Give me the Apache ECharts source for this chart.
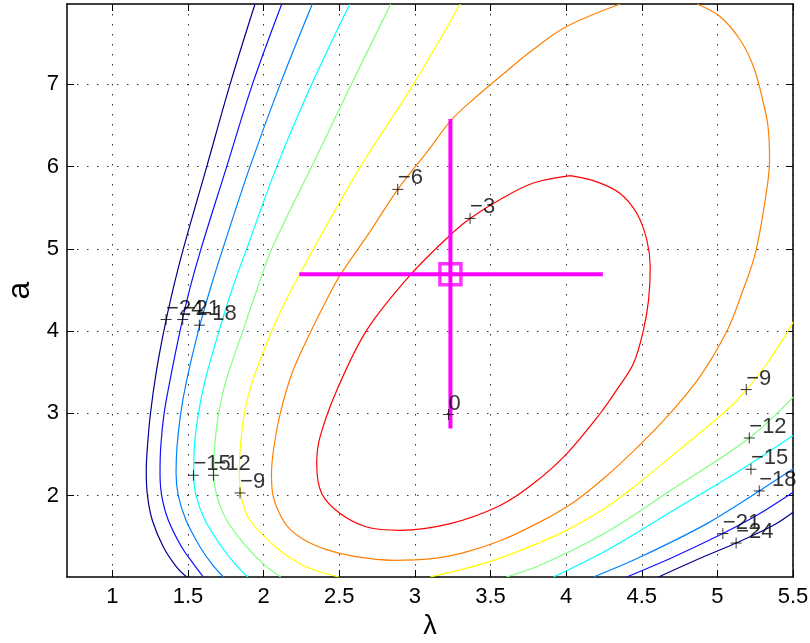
<!DOCTYPE html>
<html>
<head>
<meta charset="utf-8">
<script src="https://cdn.jsdelivr.net/npm/echarts@6/dist/echarts.min.js"></script>
<style>
  html, body { margin: 0; padding: 0; background: #fff; }
  #chart { width: 810px; height: 643px; }
</style>
</head>
<body>
<div id="chart"></div>
<script>
// tick values
const xTicks = [1, 1.5, 2, 2.5, 3, 3.5, 4, 4.5, 5, 5.5]
const yTicks = [2, 3, 4, 5, 6, 7]

// contour lines, [lambda, a] points
const contourM24Left = [[1.943, 7.977], [1.778, 7.0], [1.624, 6.0], [1.469, 5.0], [1.4, 4.5], [1.34, 4.0], [1.29, 3.5], [1.252, 3.0], [1.232, 2.6], [1.224, 2.3], [1.232, 2.0], [1.264, 1.7], [1.337, 1.375], [1.425, 1.13], [1.491, 1.01]]
const contourM24Right = [[4.611, 1.01], [4.931, 1.274], [5.124, 1.423], [5.371, 1.639], [5.503, 1.8]]
const contourM21Left = [[2.12, 7.977], [1.926, 7.0], [1.756, 6.0], [1.586, 5.0], [1.51, 4.5], [1.447, 4.0], [1.381, 3.4], [1.342, 3.0], [1.32, 2.6], [1.315, 2.27], [1.326, 2.0], [1.37, 1.7], [1.458, 1.375], [1.536, 1.17], [1.602, 1.01]]
const contourM21Right = [[4.401, 1.01], [4.71, 1.253], [5.036, 1.538], [5.261, 1.76], [5.503, 2.044]]
const contourM18Left = [[2.322, 7.977], [2.109, 7.0], [1.91, 6.0], [1.73, 5.0], [1.645, 4.5], [1.568, 4.0], [1.491, 3.4], [1.452, 3.0], [1.427, 2.59], [1.421, 2.27], [1.436, 2.0], [1.487, 1.7], [1.58, 1.375], [1.657, 1.17], [1.734, 1.01]]
const contourM18Right = [[4.181, 1.01], [4.49, 1.253], [4.931, 1.659], [5.277, 2.056], [5.503, 2.328]]
const contourM15Left = [[2.57, 7.977], [2.318, 7.0], [2.087, 6.0], [1.888, 5.0], [1.79, 4.5], [1.705, 4.0], [1.613, 3.4], [1.569, 3.0], [1.542, 2.59], [1.538, 2.26], [1.553, 2.0], [1.613, 1.7], [1.723, 1.375], [1.811, 1.17], [1.895, 1.01]]
const contourM15Right = [[3.916, 1.01], [4.269, 1.335], [4.71, 1.821], [5.151, 2.308], [5.503, 2.734]]
const contourM12Left = [[2.84, 7.977], [2.58, 7.0], [2.318, 6.0], [2.054, 5.0], [1.955, 4.5], [1.862, 4.0], [1.752, 3.4], [1.703, 3.0], [1.676, 2.59], [1.67, 2.26], [1.69, 2.0], [1.756, 1.7], [1.888, 1.375], [1.998, 1.17], [2.113, 1.01]]
const contourM12Right = [[3.605, 1.01], [3.828, 1.152], [4.269, 1.557], [4.71, 2.085], [5.211, 2.7], [5.503, 3.2]]
const contourM9Left = [[3.3, 7.977], [2.99, 7.0], [2.64, 6.0], [2.33, 5.0], [2.241, 4.7], [2.148, 4.376], [2.054, 4.0], [1.928, 3.4], [1.873, 3.0], [1.846, 2.59], [1.84, 2.27], [1.85, 2.0], [1.91, 1.7], [2.08, 1.375], [2.24, 1.17], [2.36, 1.08], [2.5, 1.01]]
const contourM9Right = [[3.101, 1.01], [3.35, 1.12], [3.564, 1.24], [3.8, 1.41], [4.005, 1.58], [4.269, 1.861], [4.5, 2.18], [4.71, 2.5], [4.93, 2.83], [5.129, 3.159], [5.327, 3.606], [5.503, 4.112]]
const contourM6 = [[4.357, 7.977], [4.0, 7.7], [3.78, 7.42], [3.56, 7.09], [3.4, 6.84], [3.24, 6.566], [3.09, 6.2], [2.887, 5.723], [2.7, 5.2], [2.506, 4.68], [2.4, 4.32], [2.3, 3.95], [2.19, 3.5], [2.11, 3.0], [2.065, 2.55], [2.052, 2.25], [2.062, 2.0], [2.1, 1.8], [2.16, 1.62], [2.27, 1.46], [2.42, 1.34], [2.6, 1.26], [2.86, 1.213], [3.1, 1.23], [3.33, 1.31], [3.564, 1.45], [3.828, 1.68], [4.05, 1.92], [4.25, 2.21], [4.445, 2.54], [4.666, 2.956], [4.886, 3.45], [5.063, 4.0], [5.16, 4.45], [5.25, 4.94], [5.316, 5.593], [5.345, 6.079], [5.335, 6.484], [5.3, 6.809], [5.239, 7.214], [5.151, 7.539], [5.019, 7.823], [4.865, 7.977]]
const contourM3 = [[4.027, 5.89], [4.203, 5.815], [4.357, 5.674], [4.468, 5.43], [4.534, 5.106], [4.556, 4.78], [4.545, 4.376], [4.511, 4.011], [4.445, 3.606], [4.34, 3.3], [4.225, 2.998], [4.005, 2.511], [3.784, 2.146], [3.564, 1.88], [3.233, 1.659], [2.902, 1.578], [2.682, 1.618], [2.506, 1.781], [2.384, 2.024], [2.351, 2.389], [2.373, 2.713], [2.484, 3.281], [2.682, 4.011], [2.969, 4.68], [3.233, 5.167], [3.365, 5.37], [3.564, 5.6], [3.784, 5.8], [4.027, 5.89]]

// contour labels
const labelX = [3.222, 3.365, 2.887, 1.844, 5.191, 1.668, 5.211, 1.536, 5.222, 1.575, 5.277, 1.465, 5.036, 1.355, 5.124]
const labelY = [2.985, 5.37, 5.723, 2.032, 3.289, 2.247, 2.70, 2.247, 2.32, 4.072, 2.056, 4.141, 1.538, 4.141, 1.423]
const labelText = ['0', '−3', '−6', '−9', '−9', '−12', '−12', '−15', '−15', '−18', '−18', '−21', '−21', '−24', '−24']

// estimate with error bars
const estX = 3.235
const estY = 4.692
const estXRange = [2.236, 4.243]
const estYRange = [2.815, 6.578]

const contours = [
  { pieces: [contourM24Left, contourM24Right], color: '#00008f' },
  { pieces: [contourM21Left, contourM21Right], color: '#1010ff' },
  { pieces: [contourM18Left, contourM18Right], color: '#0080ff' },
  { pieces: [contourM15Left, contourM15Right], color: '#00ffff' },
  { pieces: [contourM12Left, contourM12Right], color: '#80ff80' },
  { pieces: [contourM9Left, contourM9Right], color: '#ffff00' },
  { pieces: [contourM6], color: '#ff8000' },
  { pieces: [contourM3], color: '#ff0000' }
]

const font = 'Liberation Sans, Arial, Helvetica, sans-serif'
const chart = echarts.init(document.getElementById('chart'), null, { renderer: 'canvas' })

const series = []
contours.forEach(c => {
  c.pieces.forEach(p => {
    series.push({
      type: 'line',
      data: p,
      smooth: 0.35,
      symbol: 'none',
      silent: true,
      z: 2,
      lineStyle: { color: c.color, width: 1.2 }
    })
  })
})

// error bars
series.push({
  type: 'line',
  data: [[estXRange[0], estY], [estXRange[1], estY]],
  symbol: 'none',
  z: 3,
  lineStyle: { color: '#ff00ff', width: 4 }
})
series.push({
  type: 'line',
  data: [[estX, estYRange[0]], [estX, estYRange[1]]],
  symbol: 'none',
  z: 3,
  lineStyle: { color: '#ff00ff', width: 4 }
})
series.push({
  type: 'scatter',
  data: [[estX, estY]],
  symbol: 'rect',
  symbolSize: 21,
  z: 4,
  itemStyle: { color: 'transparent', borderColor: '#ff00ff', borderWidth: 3.5 }
})

// + markers with level labels
series.push({
  type: 'scatter',
  data: labelX.map((x, i) => [x, labelY[i], labelText[i]]),
  symbol: 'path://M0,5 L10,5 M5,0 L5,10',
  symbolSize: 11,
  z: 5,
  itemStyle: { color: 'transparent', borderColor: '#000', borderWidth: 1 },
  label: {
    show: true,
    position: [6, 6],
    align: 'left',
    verticalAlign: 'bottom',
    formatter: p => p.data[2],
    fontSize: 22,
    fontFamily: font,
    color: '#000'
  }
})

const option = {
  animation: false,
  backgroundColor: '#fff',
  grid: { left: 67, right: 17, top: 4, bottom: 66, containLabel: false, outerBoundsMode: 'none' },
  xAxis: [
    {
      type: 'value', min: 0.7, max: 5.5, position: 'bottom',
      name: 'λ', nameLocation: 'middle', nameGap: 36,
      nameTextStyle: { fontSize: 27, fontFamily: font, color: '#000' },
      axisLine: { show: true, onZero: false, lineStyle: { color: '#000', width: 1.5 } },
      axisTick: { show: true, inside: true, length: 7, customValues: xTicks, lineStyle: { color: '#000' } },
      axisLabel: { customValues: xTicks, fontSize: 22, fontFamily: font, color: '#000', margin: 9 },
      splitLine: { show: true, lineStyle: { color: '#333', width: 1, type: [1.5, 8.5] } }
    },
    {
      type: 'value', min: 0.7, max: 5.5, position: 'top',
      axisLine: { show: true, onZero: false, lineStyle: { color: '#000', width: 1.5 } },
      axisTick: { show: true, inside: true, length: 7, customValues: xTicks, lineStyle: { color: '#000' } },
      axisLabel: { show: false },
      splitLine: { show: false }
    }
  ],
  yAxis: [
    {
      type: 'value', min: 1.01, max: 7.977, position: 'left',
      name: 'a', nameLocation: 'middle', nameGap: 30, nameRotate: 90,
      nameTextStyle: { fontSize: 32, fontFamily: font, color: '#000' },
      axisLine: { show: true, onZero: false, lineStyle: { color: '#000', width: 1.5 } },
      axisTick: { show: true, inside: true, length: 7, customValues: yTicks, lineStyle: { color: '#000' } },
      axisLabel: { customValues: yTicks, fontSize: 22, fontFamily: font, color: '#000', margin: 8 },
      splitLine: { show: true, lineStyle: { color: '#333', width: 1, type: [1.5, 8.5] } }
    },
    {
      type: 'value', min: 1.01, max: 7.977, position: 'right',
      axisLine: { show: true, onZero: false, lineStyle: { color: '#000', width: 1.5 } },
      axisTick: { show: true, inside: true, length: 7, customValues: yTicks, lineStyle: { color: '#000' } },
      axisLabel: { show: false },
      splitLine: { show: false }
    }
  ],
  series: series
}

chart.setOption(option)
</script>
</body>
</html>
